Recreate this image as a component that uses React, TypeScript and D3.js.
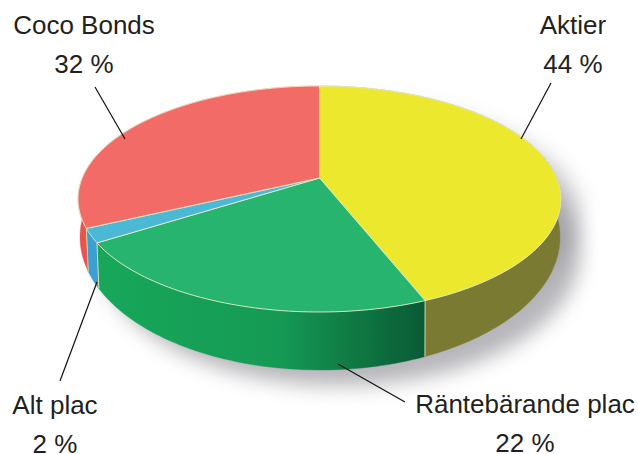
import React from "react";
import * as d3 from "d3";

const categories = ["Aktier", "Räntebärande plac", "Alt plac", "Coco Bonds"];
const shares = [44, 22, 2, 32];
const valueLabels = ["44 %", "22 %", "2 %", "32 %"];
const topColors = ["#ece82e", "#27b46e", "#4bb8d6", "#f36b66"];
const wallColors = ["#7b7a33", "url(#greenWall)", "#3b9fd2", "#e5564f"];

const W = 638, H = 454;
const top = { cx: 319.5, cy: 199, rx: 241.5, ry: 113 };
const bottom = { cx: 320, cy: 237, rx: 240, ry: 133 };
const tilt = -0.186;

type E = typeof top;
// perspective mapping of a flat pie angle onto an ellipse
const project = (e: E, a: number): [number, number] => {
  const x = Math.sin(a), y = -Math.cos(a);
  const d = 1 + tilt * y;
  return [e.cx + (e.rx * x * Math.sqrt(1 - tilt * tilt)) / d, e.cy + (e.ry * (y + tilt)) / d];
};
const sample = (e: E, a0: number, a1: number) =>
  d3.range(0, 61).map((i) => project(e, a0 + ((a1 - a0) * i) / 60));

const pieLayout = d3.pie<number>().sort(null).value((d) => d);
const line = d3.line();

const labelFont = "'Liberation Sans', Arial, sans-serif";
const labels = [
  { x: 573, y1: 34, y2: 73 },
  { x: 525, y1: 413, y2: 452 },
  { x: 55, y1: 414, y2: 453 },
  { x: 84, y1: 34, y2: 73 },
];
const leaders: [number, number, number, number][] = [
  [551, 83, 521, 139],
  [338, 364, 405, 402],
  [97, 282, 60, 381],
  [95, 87, 125, 139],
];

export default function App() {
  const arcs = pieLayout(shares);
  const apex = project(top, 0);
  const apexY = top.cy + top.ry * tilt;
  const outline = sample(bottom, 0, Math.PI * 2);
  const topOutline = sample(top, 0, Math.PI * 2);
  return (
    <svg width={W} height={H} viewBox={`0 0 ${W} ${H}`} style={{ position: "fixed", left: 0, top: 0, background: "#fff" }}>
      <defs>
        <linearGradient id="greenWall" gradientUnits="userSpaceOnUse" x1="100" x2="425" y1="0" y2="0">
          <stop offset="0" stopColor="#17a75a" />
          <stop offset="0.55" stopColor="#159a54" />
          <stop offset="1" stopColor="#0a5a35" />
        </linearGradient>
        <filter id="soft" x="-20%" y="-20%" width="140%" height="140%">
          <feGaussianBlur stdDeviation="10" />
        </filter>
      </defs>
      <path d={line(outline.map(([x, y]) => [x + 20, y + 16]) as [number, number][]) + "Z"} fill="#85858c" opacity={0.6} filter="url(#soft)" />
      <path d={line(topOutline.map(([x, y]) => [x + 20, y + 16]) as [number, number][]) + "Z"} fill="#85858c" opacity={0.4} filter="url(#soft)" />
      {arcs.map((a, i) => {
        const t = sample(top, a.startAngle, a.endAngle);
        const b = sample(bottom, a.startAngle, a.endAngle).reverse();
        return <path key={i} d={line([...t, ...b] as [number, number][]) + "Z"} fill={wallColors[i]} stroke={wallColors[i]} strokeWidth={0.4} />;
      })}
      {arcs.slice(0, 3).map((a, i) => {
        const pt = project(top, a.endAngle);
        const pb = project(bottom, a.endAngle);
        return <line key={i} x1={pt[0]} y1={pt[1]} x2={pb[0]} y2={pb[1]} stroke="#d8e2b0" strokeWidth={1} />;
      })}
      {arcs.map((a, i) => (
        <path
          key={i}
          d={line([[apex[0], apexY], ...sample(top, a.startAngle, a.endAngle)] as [number, number][]) + "Z"}
          fill={topColors[i]}
          stroke="#e6ecc8"
          strokeWidth={0.9}
          strokeLinejoin="round"
        />
      ))}
      {leaders.map(([x1, y1, x2, y2], i) => (
        <line key={i} x1={x1} y1={y1} x2={x2} y2={y2} stroke="#111" strokeWidth={1.2} />
      ))}
      <g fontFamily={labelFont} fontSize={26} fill="#231f20" textAnchor="middle">
        {labels.map((l, i) => (
          <g key={i}>
            <text x={l.x} y={l.y1}>{categories[i]}</text>
            <text x={l.x} y={l.y2}>{valueLabels[i]}</text>
          </g>
        ))}
      </g>
    </svg>
  );
}
